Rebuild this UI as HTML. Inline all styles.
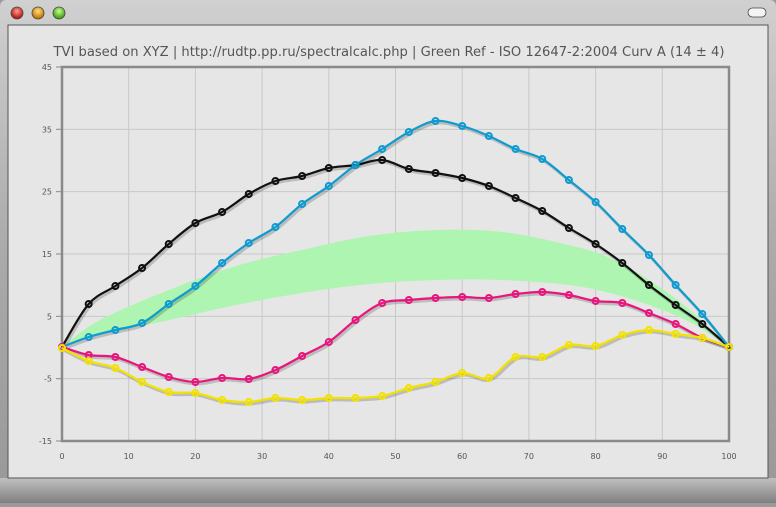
<!DOCTYPE html>
<html><head><meta charset="utf-8"><style>
body{margin:0;width:776px;height:503px;overflow:hidden;background:#9a9a9a;font-family:"DejaVu Sans","Liberation Sans",sans-serif}
</style></head><body>
<svg width="776" height="503" xmlns="http://www.w3.org/2000/svg" id="s">
<defs>
<linearGradient id="mt" x1="0" y1="0" x2="0" y2="1"><stop offset="0" stop-color="#d0d0d0"/><stop offset="0.5" stop-color="#aaaaaa"/><stop offset="1" stop-color="#989898"/></linearGradient>
<linearGradient id="mb" x1="0" y1="0" x2="0" y2="1"><stop offset="0" stop-color="#c0c0c0"/><stop offset="0.5" stop-color="#a0a0a0"/><stop offset="1" stop-color="#808080"/></linearGradient>
<radialGradient id="r" cx="0.5" cy="0.35" r="0.6"><stop offset="0" stop-color="#ff9a8a"/><stop offset="1" stop-color="#b01010"/></radialGradient>
<radialGradient id="o" cx="0.5" cy="0.35" r="0.6"><stop offset="0" stop-color="#ffe080"/><stop offset="1" stop-color="#c07000"/></radialGradient>
<radialGradient id="g" cx="0.5" cy="0.35" r="0.6"><stop offset="0" stop-color="#c8ff90"/><stop offset="1" stop-color="#3a9a10"/></radialGradient>
</defs>
<rect x="0" y="0" width="776" height="503" rx="6" fill="url(#mt)"/>
<rect x="0" y="478" width="776" height="25" fill="url(#mb)"/>
<rect x="8" y="25" width="760" height="453" fill="#e6e6e6" stroke="#555" stroke-width="1"/>
<circle cx="17" cy="13" r="6" fill="url(#r)" stroke="#444" stroke-width="0.8"/>
<circle cx="38" cy="13" r="6" fill="url(#o)" stroke="#444" stroke-width="0.8"/>
<circle cx="59" cy="13" r="6" fill="url(#g)" stroke="#444" stroke-width="0.8"/>
<rect x="748" y="8" width="18" height="9" rx="4.5" fill="#f4f4f4" stroke="#444" stroke-width="0.8"/>
<text x="389" y="56" font-size="13" fill="#555" text-anchor="middle" textLength="671" lengthAdjust="spacingAndGlyphs">TVI based on XYZ | http://rudtp.pp.ru/spectralcalc.php | Green Ref - ISO 12647-2:2004 Curv A (14 ± 4)</text>
<g id="grid"></g>
<g id="series"></g>
</svg>
<script>
const s=document.getElementById('s'),ns='http://www.w3.org/2000/svg';
function el(t,a,p){const e=document.createElementNS(ns,t);for(const k in a)e.setAttribute(k,a[k]);(p||s).appendChild(e);return e;}
const G=document.getElementById('grid'),S=document.getElementById('series');
const X0=62,X1=729,Y0=67,Y1=441;
for(let i=1;i<10;i++){const x=X0+(X1-X0)*i/10;el('line',{x1:x,x2:x,y1:Y0,y2:Y1,stroke:'#c8c8c8','stroke-width':1},G);}
for(let i=0;i<=6;i++){const y=Y0+(Y1-Y0)*i/6;el('line',{x1:X0,x2:X1,y1:y,y2:y,stroke:'#c8c8c8','stroke-width':1},G);
 el('line',{x1:X0-6,x2:X0,y1:y,y2:y,stroke:'#888'},G);
 const t=el('text',{x:X0-10,y:y+3,'font-size':8,fill:'#555','text-anchor':'end'},G);t.textContent=45-10*i;}
for(let i=0;i<=10;i++){const x=X0+(X1-X0)*i/10;const t=el('text',{x:x,y:459,'font-size':8,fill:'#555','text-anchor':'middle'},G);t.textContent=i*10;}
el('rect',{x:X0,y:Y0,width:X1-X0,height:Y1-Y0,fill:'none',stroke:'#8a8a8a','stroke-width':2.5},G);
function cr(p){let d='M'+p[0][0]+','+p[0][1];for(let i=0;i<p.length-1;i++){const a=p[i-1]||p[i],b=p[i],c=p[i+1],e=p[i+2]||c;
d+=' C'+(b[0]+(c[0]-a[0])/6)+','+(b[1]+(c[1]-a[1])/6)+' '+(c[0]-(e[0]-b[0])/6)+','+(c[1]-(e[1]-b[1])/6)+' '+c[0]+','+c[1];}return d;}
const xs=[];for(let i=0;i<26;i++)xs.push(X0+(X1-X0)*i/25);
const up=[[62,347],[100,320],[169,290],[236,266],[302,250],[369,236],[436,230],[502,232],[569,245],[610,258],[649,280],[690,310],[729,347]];
const lo=[[62,347],[100,335],[169,320],[236,305],[302,293],[369,284],[436,280],[502,280],[569,285],[610,293],[649,305],[690,322],[729,347]];
el('path',{d:cr(up)+' L'+cr(lo.slice().reverse()).slice(1),fill:'#adf5b0',stroke:'none'},S);
const data={
'#111':[347,304,286,268,244,223,212,194,181,176,168,165,160,169,173,178,186,198,211,228,244,263,285,305,324,347],
'#0e9bd0':[347,337,330,323,304,286,263,243,227,204,186,165,149,132,121,126,136,149,159,180,202,229,255,285,314,347],
'#e8157d':[347,355,357,367,377,382,378,379,370,356,342,320,303,300,298,297,298,294,292,295,301,303,313,324,338,347],
'#f2e200':[348,361,368,382,392,393,400,402,398,400,398,398,396,388,382,373,378,357,357,345,346,335,330,334,338,347]};
for(const c in data){const p=data[c].map((y,i)=>[xs[i],y]);
 el('path',{d:cr(p),fill:'none',stroke:'rgba(0,0,0,0.18)','stroke-width':3,transform:'translate(1.5,2)'},S);
 el('path',{d:cr(p),fill:'none',stroke:c,'stroke-width':2.2},S);
 p.forEach(q=>el('circle',{cx:q[0],cy:q[1],r:3,fill:'none',stroke:c,'stroke-width':2},S));}
</script>
</body></html>
